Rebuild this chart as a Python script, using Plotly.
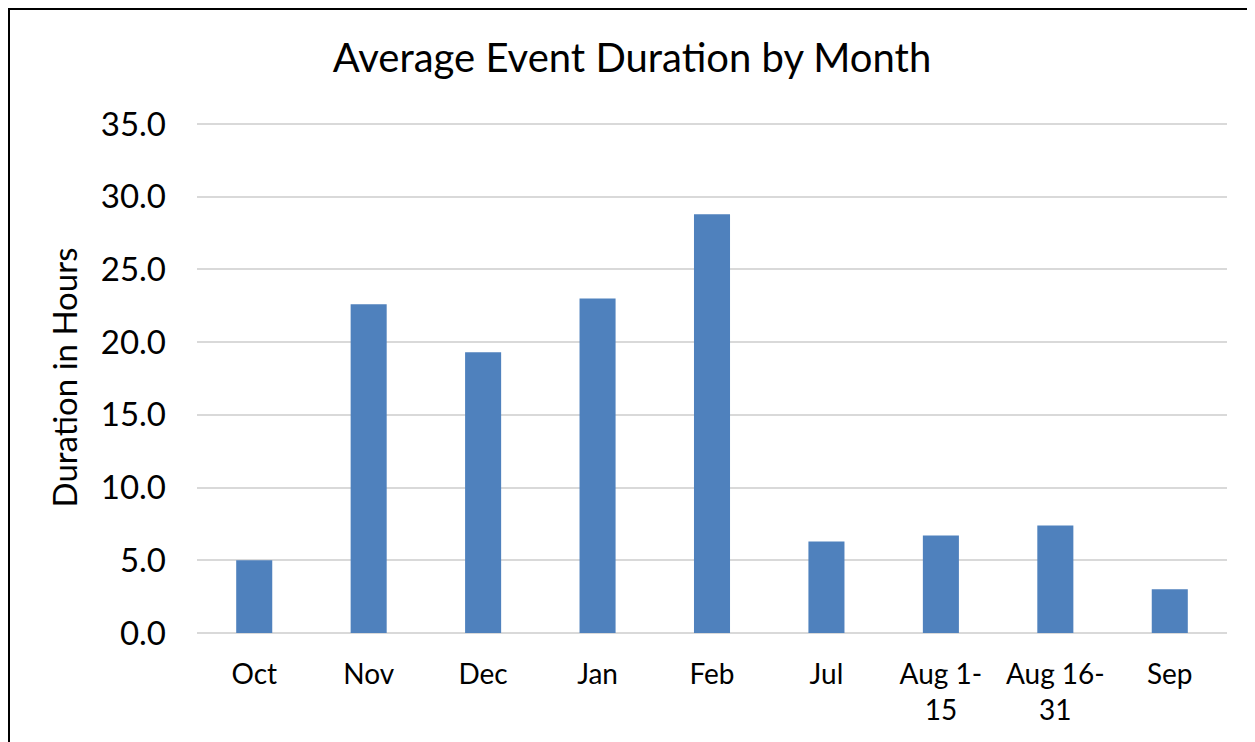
import plotly.graph_objects as go

# Data
months = ['Oct', 'Nov', 'Dec', 'Jan', 'Feb', 'Jul', 'Aug 1-<br>15', 'Aug 16-<br>31', 'Sep']
avg_hours = [5.0, 22.6, 19.3, 23.0, 28.8, 6.3, 6.7, 7.4, 3.0]
y_ticks = [0, 5, 10, 15, 20, 25, 30, 35]

# page body has an 8px margin, so positions are shifted by OFF
OFF = 8
W, H = 1255 - OFF, 742 - OFF
L, T = 197 - OFF, 122 - OFF
R = W - (1227 - OFF)
B = H - (633 - OFF)
pw, ph = W - L - R, H - T - B

fig = go.Figure(
    go.Bar(
        x=months,
        y=avg_hours,
        marker_color='#4F81BD',
        marker_line=dict(color='#4F81BD', width=0),
        hoverinfo='x+y',
    )
)

font_name = 'Lato, Calibri, sans-serif'

fig.update_layout(
    width=W,
    height=H,
    margin=dict(l=L, r=R, t=T, b=B, autoexpand=False),
    plot_bgcolor='white',
    paper_bgcolor='white',
    bargap=0.685,
    showlegend=False,
    font=dict(family=font_name, color='black'),
    title=dict(
        text='Average Event Duration by Month',
        x=(632 - OFF) / W,
        xanchor='center',
        y=1 - (58 - OFF) / H,
        yanchor='middle',
        font=dict(size=40, family=font_name, color='black'),
    ),
)

fig.update_yaxes(
    range=[0, 35.14],
    tickvals=y_ticks,
    tickformat='.1f',
    tickfont=dict(size=33),
    ticklabelstandoff=30,
    showgrid=True,
    gridcolor='#d9d9d9',
    gridwidth=1.5,
    zeroline=True,
    zerolinecolor='#d9d9d9',
    zerolinewidth=1.5,
    showline=False,
    title=dict(text='Duration in Hours', font=dict(size=33), standoff=13),
)

fig.update_xaxes(
    tickfont=dict(size=28),
    ticklabelstandoff=22,
    showline=False,
    showgrid=False,
)

# outer border of the chart frame
fig.add_shape(
    type='rect',
    xref='paper', yref='paper',
    x0=(9 - OFF - L) / pw, x1=(W + 20 - L) / pw,
    y0=-(B + 20) / ph, y1=1 + (T - (9 - OFF)) / ph,
    line=dict(color='black', width=2),
    fillcolor='rgba(0,0,0,0)',
    layer='above',
)

fig.write_html("out.html")
